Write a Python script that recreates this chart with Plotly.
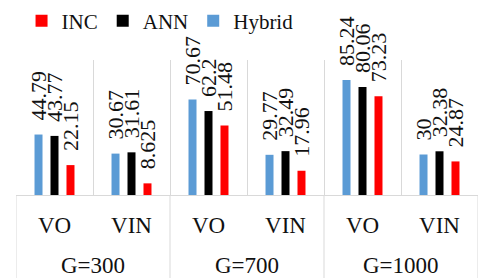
import plotly.graph_objects as go

groups = ["G=300", "G=300", "G=700", "G=700", "G=1000", "G=1000"]
subcats = ["VO", "VIN", "VO", "VIN", "VO", "VIN"]
hybrid = [44.79, 30.67, 70.67, 29.77, 85.24, 30]
ann = [43.77, 31.61, 62.2, 32.49, 80.06, 32.38]
inc = [22.15, 8.625, 51.48, 17.96, 73.23, 24.87]
hybrid_text = ["44.79", "30.67", "70.67", "29.77", "85.24", "30"]
ann_text = ["43.77", "31.61", "62.2", "32.49", "80.06", "32.38"]
inc_text = ["22.15", "8.625", "51.48", "17.96", "73.23", "24.87"]

FONT = "'Liberation Serif', 'Times New Roman', serif"
TXT = "#111111"
GRID = "#D9D9D9"
pad = "\u00a0\u00a0"

idx = list(range(len(subcats)))

fig = go.Figure()
for name, vals, txt, col in [
    ("Hybrid", hybrid, hybrid_text, "#5B9BD5"),
    ("ANN", ann, ann_text, "#000000"),
    ("INC", inc, inc_text, "#FF0000"),
]:
    fig.add_trace(go.Bar(
        x=idx, y=vals, name=name,
        marker=dict(color=col, line=dict(width=0)),
        text=[pad + t for t in txt], textposition="outside", textangle=-90,
        constraintext="none", cliponaxis=False,
        textfont=dict(family=FONT, size=22, color=TXT),
        hoverinfo="skip",
    ))

# group labels and group dividers derived from the category lists
group_names = []
for g in groups:
    if g not in group_names:
        group_names.append(g)
bounds = [-0.5]
for gname in group_names:
    members = [i for i, g in enumerate(groups) if g == gname]
    center = sum(members) / len(members)
    fig.add_annotation(x=center, xref="x", y=-0.52, yref="paper", yanchor="middle",
                       text=gname, showarrow=False,
                       font=dict(family=FONT, size=23, color=TXT))
    bounds.append(max(members) + 0.5)
for b in bounds:
    fig.add_shape(type="line", xref="x", yref="paper", x0=b, x1=b, y0=0, y1=-0.62,
                  line=dict(color=GRID, width=1))

fig.update_layout(
    width=480, height=278,
    margin=dict(l=16, r=2, t=60, b=83, autoexpand=False),
    paper_bgcolor="white", plot_bgcolor="white",
    barmode="group", bargap=0.377, bargroupgap=0.5,
    showlegend=True,
    legend=dict(orientation="h", x=0.012, xanchor="left", y=1.44, yanchor="top",
                traceorder="reversed", font=dict(family=FONT, size=21, color=TXT),
                itemwidth=30, bgcolor="rgba(0,0,0,0)"),
    font=dict(family=FONT, size=23, color=TXT),
)
fig.update_xaxes(
    range=[-0.5, len(subcats) - 0.5],
    tickmode="array", tickvals=idx, ticktext=subcats, ticks="",
    ticklabelstandoff=9,
    showgrid=False, zeroline=False,
    minor=dict(tickmode="array", tickvals=[i - 0.5 for i in range(len(subcats) + 1)],
               showgrid=True, gridcolor=GRID, gridwidth=1, ticks=""),
    showline=True, linecolor=GRID, linewidth=1,
    tickfont=dict(family=FONT, size=23, color=TXT),
)
fig.update_yaxes(range=[0, 100], visible=False, showgrid=False)

fig.write_html("out.html", config={"displayModeBar": False},
               post_script="document.body.style.margin='0';document.body.style.padding='0';")
